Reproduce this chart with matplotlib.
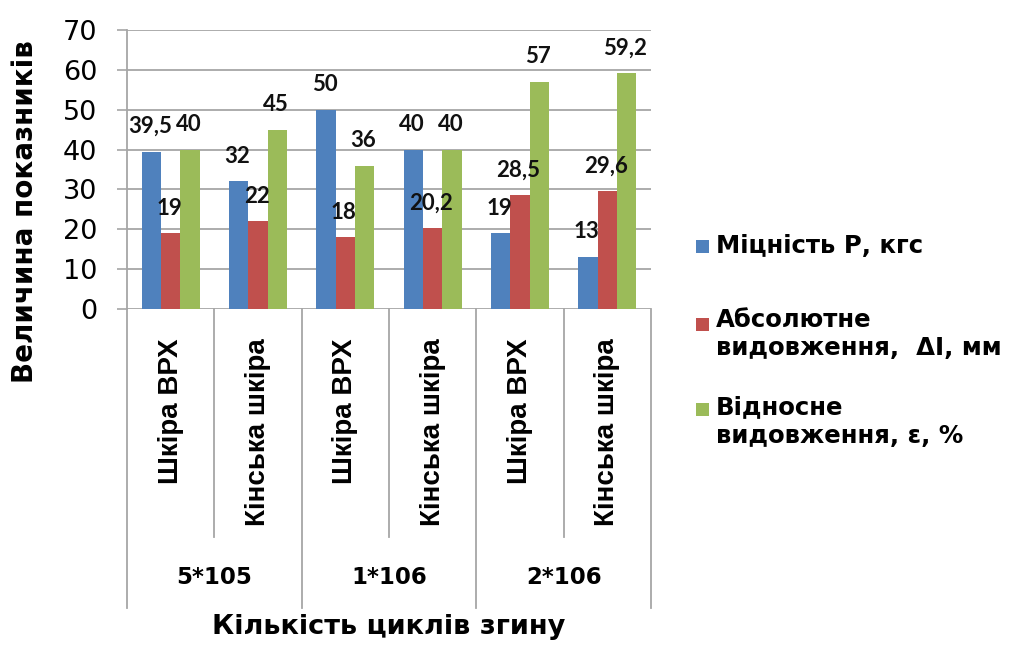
import matplotlib
matplotlib.use("Agg")
import matplotlib.pyplot as plt
from matplotlib.patches import Rectangle
from matplotlib.transforms import blended_transform_factory
import numpy as np

# ---- data ----
categories = ["Шкіра ВРХ", "Кінська шкіра",
              "Шкіра ВРХ", "Кінська шкіра",
              "Шкіра ВРХ", "Кінська шкіра"]
groups = ["5*105", "1*106", "2*106"]
series_names = ["Міцність Р, кгс",
                "Абсолютне\nвидовження,  ΔІ, мм",
                "Відносне\nвидовження, ε, %"]
strength = [39.5, 32, 50, 40, 19, 13]
abs_elong = [19, 22, 18, 20.2, 28.5, 29.6]
rel_elong = [40, 45, 36, 40, 57, 59.2]
y_ticks = [0, 10, 20, 30, 40, 50, 60, 70]

colors = ["#4F81BD", "#C0504D", "#9BBB59"]
grid_c = "#A6A6A6"
W, H = 1009, 646
SANS = "DejaVu Sans"

fig = plt.figure(figsize=(W / 100, H / 100), dpi=100)
ax = fig.add_axes([127 / W, 1 - 309 / H, (651 - 127) / W, (309 - 30) / H])

x = np.arange(len(categories))
bw = 0.222
series = [strength, abs_elong, rel_elong]
for i, (vals, col) in enumerate(zip(series, colors)):
    xs = x + (i - 1) * bw
    ax.bar(xs, vals, width=bw, color=col, zorder=3)
    for xi, v in zip(xs, vals):
        txt = f"{v:g}".replace(".", ",")
        ax.annotate(txt, (xi, v), xytext=(-1, 13.5), textcoords="offset points",
                    ha="center", va="baseline", fontsize=16,
                    fontfamily="Lato", fontweight="bold", color="#111111",
                    zorder=4)

ax.set_xlim(-0.5, len(categories) - 0.5)
ax.set_ylim(0, 70)
ax.set_yticks(y_ticks)
ax.set_yticklabels([str(t) for t in y_ticks], fontsize=19.5,
                   fontfamily=SANS, color="black")
ax.tick_params(axis="y", length=7.2, width=1.2, color=grid_c, pad=14)
ax.set_xticks([])
ax.yaxis.grid(True, color=grid_c, linewidth=1.3, zorder=0)
for s in ["top", "right", "bottom"]:
    ax.spines[s].set_visible(False)
ax.spines["left"].set_color(grid_c)
ax.spines["left"].set_linewidth(1.3)

# multi-level category axis below the plot
tr = blended_transform_factory(ax.transData, ax.transAxes)
px = 1 / (309 - 30)
y_cat = -(537 - 309) * px
y_grp = -(608 - 309) * px
for b in np.arange(-0.5, len(categories), 1.0):
    is_group_edge = (int(round(b + 0.5)) % 2 == 0)
    ax.plot([b, b], [0, y_grp if is_group_edge else y_cat], transform=tr,
            color=grid_c, lw=1.3, clip_on=False)

for xi, lab in zip(x, categories):
    ax.text(xi, -(338 - 309) * px, lab, transform=tr, rotation=90,
            ha="center", va="top", fontsize=20,
            fontfamily="Liberation Sans", fontweight="bold")

for gi, g in enumerate(groups):
    ax.text(2 * gi + 0.5, -(577 - 309) * px, g, transform=tr,
            ha="center", va="center", fontsize=16.5,
            fontfamily=SANS, fontweight="bold")

# axis titles
fig.text(389 / W, 1 - 627 / H, "Кількість циклів згину", ha="center",
         va="center", fontsize=19.5, fontfamily=SANS, fontweight="bold")
fig.text(25 / W, 1 - 212 / H, "Величина показників", ha="center",
         va="center", rotation=90, fontsize=20,
         fontfamily=SANS, fontweight="bold")

# legend
leg_sq = [246, 324, 409]
leg_txt = [246, 334, 422]
for name, col, ys, yt in zip(series_names, colors, leg_sq, leg_txt):
    sq = 13
    fig.patches.append(Rectangle(((702 - sq / 2) / W, 1 - (ys + sq / 2) / H),
                                 sq / W, sq / H, transform=fig.transFigure,
                                 facecolor=col, edgecolor="none"))
    fig.text(716 / W, 1 - yt / H, name, ha="left", va="center",
             fontsize=17.6, fontfamily=SANS, fontweight="bold",
             linespacing=1.25)

fig.savefig("out.png", dpi=100)
